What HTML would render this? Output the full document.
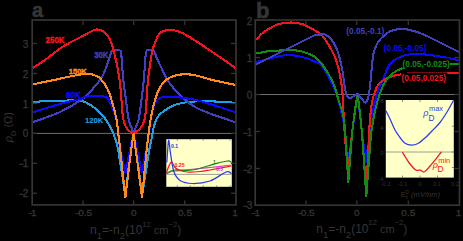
<!DOCTYPE html>
<html><head><meta charset="utf-8"><style>
html,body{margin:0;padding:0;background:#000;}
body{width:463px;height:241px;overflow:hidden;}
svg{display:block;font-family:"Liberation Sans",sans-serif;}
</style></head><body>
<svg width="463" height="241" viewBox="0 0 463 241">
<rect width="463" height="241" fill="#000"/>
<line x1="33" y1="133.4" x2="233" y2="133.4" stroke="#6e6e6e" stroke-width="1"/>
<path d="M32.00 102.50 C34.17 102.25 38.67 101.33 45.00 101.00 C51.33 100.67 64.50 100.67 70.00 100.50 C75.50 100.33 75.17 99.58 78.00 100.00 C80.83 100.42 83.90 101.42 87.00 103.00 C90.10 104.58 93.62 106.95 96.60 109.50 C99.58 112.05 102.48 115.10 104.90 118.30 C107.32 121.50 109.37 125.25 111.10 128.70 C112.83 132.15 114.08 135.20 115.30 139.00 C116.52 142.80 116.70 142.00 118.40 151.50 C120.10 161.00 124.32 188.58 125.50 196.00 M125.50 196.00 C126.17 190.00 128.17 170.50 129.50 160.00 C130.83 149.50 132.83 137.50 133.50 133.00 M133.50 133.00 C134.17 137.50 136.08 149.50 137.50 160.00 C138.92 170.50 141.25 190.00 142.00 196.00 M142.00 196.00 C143.17 188.58 147.42 161.00 149.00 151.50 C150.58 142.00 150.67 143.25 151.50 139.00 C152.33 134.75 153.08 129.50 154.00 126.00 C154.92 122.50 155.67 120.25 157.00 118.00 C158.33 115.75 160.33 114.00 162.00 112.50 C163.67 111.00 164.42 110.42 167.00 109.00 C169.58 107.58 172.42 105.30 177.50 104.00 C182.58 102.70 189.58 101.53 197.50 101.20 C205.42 100.87 218.58 101.70 225.00 102.00 C231.42 102.30 234.17 102.83 236.00 103.00" fill="none" stroke="#1ea0e6" stroke-width="2.1" stroke-linejoin="round" shape-rendering="crispEdges"/>
<path d="M32.00 122.50 C36.67 120.75 51.50 116.00 60.00 112.00 C68.50 108.00 77.50 102.42 83.00 98.50 C88.50 94.58 90.17 91.58 93.00 88.50 C95.83 85.42 98.17 82.58 100.00 80.00 C101.83 77.42 102.67 76.00 104.00 73.00 C105.33 70.00 106.83 65.33 108.00 62.00 C109.17 58.67 110.25 54.87 111.00 53.00 C111.75 51.13 110.92 51.17 112.50 50.80 C114.08 50.43 119.00 49.77 120.50 50.80 C122.00 51.83 121.03 52.13 121.50 57.00 C121.97 61.87 122.55 72.83 123.30 80.00 C124.05 87.17 125.08 93.33 126.00 100.00 C126.92 106.67 127.55 114.58 128.80 120.00 C130.05 125.42 132.72 130.42 133.50 132.50 M133.50 132.50 C134.33 130.42 137.17 125.42 138.50 120.00 C139.83 114.58 140.62 106.67 141.50 100.00 C142.38 93.33 143.13 87.17 143.80 80.00 C144.47 72.83 145.00 61.92 145.50 57.00 C146.00 52.08 145.47 51.58 146.80 50.50 C148.13 49.42 151.97 49.58 153.50 50.50 C155.03 51.42 154.92 53.58 156.00 56.00 C157.08 58.42 158.08 61.00 160.00 65.00 C161.92 69.00 165.00 75.83 167.50 80.00 C170.00 84.17 172.50 87.08 175.00 90.00 C177.50 92.92 179.17 94.67 182.50 97.50 C185.83 100.33 190.42 104.33 195.00 107.00 C199.58 109.67 203.17 110.92 210.00 113.50 C216.83 116.08 231.67 121.00 236.00 122.50" fill="none" stroke="#4040c0" stroke-width="2.1" stroke-linejoin="round" shape-rendering="crispEdges"/>
<path d="M32.00 112.50 C36.67 111.08 52.00 106.25 60.00 104.00 C68.00 101.75 75.50 100.25 80.00 99.00 C84.50 97.75 83.17 96.92 87.00 96.50 C90.83 96.08 99.42 96.00 103.00 96.50 C106.58 97.00 106.67 96.83 108.50 99.50 C110.33 102.17 112.58 108.75 114.00 112.50 C115.42 116.25 116.08 116.58 117.00 122.00 C117.92 127.42 118.08 136.50 119.50 145.00 C120.92 153.50 124.50 168.33 125.50 173.00 M125.50 173.00 C126.17 169.50 128.17 158.67 129.50 152.00 C130.83 145.33 132.83 136.17 133.50 133.00 M133.50 133.00 C134.17 136.17 136.08 145.33 137.50 152.00 C138.92 158.67 141.25 169.50 142.00 173.00 M142.00 173.00 C142.83 168.33 145.58 153.50 147.00 145.00 C148.42 136.50 149.50 128.17 150.50 122.00 C151.50 115.83 152.05 111.42 153.00 108.00 C153.95 104.58 154.62 103.33 156.20 101.50 C157.78 99.67 158.53 97.67 162.50 97.00 C166.47 96.33 173.75 96.83 180.00 97.50 C186.25 98.17 190.67 98.50 200.00 101.00 C209.33 103.50 230.00 110.58 236.00 112.50" fill="none" stroke="#0a0aff" stroke-width="2.1" stroke-linejoin="round" shape-rendering="crispEdges"/>
<path d="M32.00 84.50 C35.67 83.75 47.67 81.33 54.00 80.00 C60.33 78.67 64.50 77.55 70.00 76.50 C75.50 75.45 82.83 73.87 87.00 73.70 C91.17 73.53 92.75 74.67 95.00 75.50 C97.25 76.33 98.33 76.28 100.50 78.70 C102.67 81.12 105.92 85.62 108.00 90.00 C110.08 94.38 111.57 100.00 113.00 105.00 C114.43 110.00 115.68 115.00 116.60 120.00 C117.52 125.00 117.85 129.67 118.50 135.00 C119.15 140.33 119.37 141.50 120.50 152.00 C121.63 162.50 124.50 190.33 125.30 198.00 M125.30 198.00 C126.00 192.17 128.13 173.83 129.50 163.00 C130.87 152.17 132.83 138.00 133.50 133.00 M133.50 133.00 C134.17 138.00 136.08 152.25 137.50 163.00 C138.92 173.75 141.25 191.75 142.00 197.50 M142.00 197.50 C142.75 189.92 145.42 162.42 146.50 152.00 C147.58 141.58 147.83 140.33 148.50 135.00 C149.17 129.67 149.63 125.00 150.50 120.00 C151.37 115.00 152.33 110.00 153.70 105.00 C155.07 100.00 156.65 94.17 158.70 90.00 C160.75 85.83 162.87 82.50 166.00 80.00 C169.13 77.50 173.50 75.92 177.50 75.00 C181.50 74.08 186.58 74.33 190.00 74.50 C193.42 74.67 194.25 75.08 198.00 76.00 C201.75 76.92 206.17 78.50 212.50 80.00 C218.83 81.50 232.08 84.17 236.00 85.00" fill="none" stroke="#ff8a1e" stroke-width="2.1" stroke-linejoin="round" shape-rendering="crispEdges"/>
<path d="M32.00 68.50 C34.17 67.08 40.33 63.33 45.00 60.00 C49.67 56.67 55.83 51.42 60.00 48.50 C64.17 45.58 66.67 44.33 70.00 42.50 C73.33 40.67 76.67 39.25 80.00 37.50 C83.33 35.75 87.33 33.33 90.00 32.00 C92.67 30.67 93.83 29.67 96.00 29.50 C98.17 29.33 101.00 29.92 103.00 31.00 C105.00 32.08 106.67 34.17 108.00 36.00 C109.33 37.83 110.17 39.92 111.00 42.00 C111.83 44.08 112.33 46.17 113.00 48.50 C113.67 50.83 114.33 53.25 115.00 56.00 C115.67 58.75 116.23 61.00 117.00 65.00 C117.77 69.00 118.85 74.17 119.60 80.00 C120.35 85.83 120.93 93.67 121.50 100.00 C122.07 106.33 122.25 113.50 123.00 118.00 C123.75 122.50 124.83 124.75 126.00 127.00 C127.17 129.25 128.75 130.53 130.00 131.50 C131.25 132.47 132.92 132.58 133.50 132.80 M133.50 132.80 C134.25 132.42 136.58 131.63 138.00 130.50 C139.42 129.37 140.83 128.08 142.00 126.00 C143.17 123.92 144.25 122.33 145.00 118.00 C145.75 113.67 146.00 106.33 146.50 100.00 C147.00 93.67 147.33 86.33 148.00 80.00 C148.67 73.67 149.83 66.58 150.50 62.00 C151.17 57.42 151.25 55.75 152.00 52.50 C152.75 49.25 153.67 45.75 155.00 42.50 C156.33 39.25 157.75 35.08 160.00 33.00 C162.25 30.92 165.17 30.17 168.50 30.00 C171.83 29.83 175.58 30.25 180.00 32.00 C184.42 33.75 190.00 37.42 195.00 40.50 C200.00 43.58 205.50 47.50 210.00 50.50 C214.50 53.50 217.67 55.50 222.00 58.50 C226.33 61.50 233.67 66.83 236.00 68.50" fill="none" stroke="#f5141e" stroke-width="2.1" stroke-linejoin="round" shape-rendering="crispEdges"/>
<text transform="translate(45.5,43) scale(0.8,0.97)" fill="#f5141e" stroke="#f5141e" stroke-width="0.4" font-size="10" font-weight="bold">250K</text>
<text transform="translate(94.2,57.9) scale(0.78,0.95)" fill="#4040c0" stroke="#4040c0" stroke-width="0.4" font-size="10" font-weight="bold">30K</text>
<text transform="translate(68.7,73.6) scale(0.76,0.8)" fill="#ff8a1e" stroke="#ff8a1e" stroke-width="0.5" font-size="10" font-weight="bold">150K</text>
<text transform="translate(66.0,98.3) scale(0.78,0.9)" fill="#0a0aff" stroke="#0a0aff" stroke-width="0.45" font-size="10" font-weight="bold">60K</text>
<text transform="translate(85,122.7) scale(0.85,0.85)" fill="#1ea0e6" stroke="#1ea0e6" stroke-width="0.1" font-size="9" font-weight="bold">120K</text>
<rect x="166.3" y="139.2" width="65.5" height="47.6" fill="#ffffc8"/>
<line x1="166.3" y1="174.4" x2="231.8" y2="174.4" stroke="#888" stroke-width="0.8"/>
<path d="M166.50 173.00 C167.92 172.67 171.08 171.58 175.00 171.00 C178.92 170.42 184.17 170.08 190.00 169.50 C195.83 168.92 203.08 168.25 210.00 167.50 C216.92 166.75 227.92 165.42 231.50 165.00" fill="none" stroke="#d23cd2" stroke-width="1.25"/>
<path d="M166.50 173.70 C167.08 173.33 168.58 172.12 170.00 171.50 C171.42 170.88 171.25 170.25 175.00 170.00 C178.75 169.75 185.83 171.03 192.50 170.00 C199.17 168.97 209.17 165.30 215.00 163.80 C220.83 162.30 224.75 161.22 227.50 161.00 C230.25 160.78 230.83 162.25 231.50 162.50" fill="none" stroke="#148c14" stroke-width="1.25"/>
<path d="M166.50 172.50 C166.83 171.58 167.83 168.58 168.50 167.00 C169.17 165.42 169.92 163.78 170.50 163.00 C171.08 162.22 171.25 161.55 172.00 162.30 C172.75 163.05 173.67 166.13 175.00 167.50 C176.33 168.87 177.92 169.75 180.00 170.50 C182.08 171.25 184.17 171.83 187.50 172.00 C190.83 172.17 196.25 171.83 200.00 171.50 C203.75 171.17 204.75 170.92 210.00 170.00 C215.25 169.08 227.92 166.67 231.50 166.00" fill="none" stroke="#f5141e" stroke-width="1.25"/>
<path d="M166.80 162.50 C167.10 158.83 168.02 142.25 168.60 140.50 C169.18 138.75 169.45 146.92 170.30 152.00 C171.15 157.08 172.08 166.25 173.70 171.00 C175.32 175.75 176.87 178.42 180.00 180.50 C183.13 182.58 187.50 183.42 192.50 183.50 C197.50 183.58 204.42 182.92 210.00 181.00 C215.58 179.08 222.42 173.25 226.00 172.00 C229.58 170.75 230.58 173.25 231.50 173.50" fill="none" stroke="#2a3cf0" stroke-width="1.25"/>
<text x="171" y="148.3" fill="#2a3cf0" font-size="5.2" font-weight="bold" text-anchor="start" >0.1</text>
<text x="174.5" y="166.5" fill="#f5141e" font-size="5.2" font-weight="bold" text-anchor="start" >0.25</text>
<text x="213" y="164" fill="#148c14" font-size="5.2" font-weight="bold" text-anchor="start" >1</text>
<text x="216" y="171.3" fill="#d23cd2" font-size="5.2" font-weight="bold" text-anchor="start" >0.5</text>
<line x1="177.3" y1="186.8" x2="177.3" y2="185.3" stroke="#444" stroke-width="0.6"/>
<line x1="177.3" y1="139.2" x2="177.3" y2="140.7" stroke="#444" stroke-width="0.6"/>
<line x1="190.2" y1="186.8" x2="190.2" y2="185.3" stroke="#444" stroke-width="0.6"/>
<line x1="190.2" y1="139.2" x2="190.2" y2="140.7" stroke="#444" stroke-width="0.6"/>
<line x1="203.2" y1="186.8" x2="203.2" y2="185.3" stroke="#444" stroke-width="0.6"/>
<line x1="203.2" y1="139.2" x2="203.2" y2="140.7" stroke="#444" stroke-width="0.6"/>
<line x1="216.6" y1="186.8" x2="216.6" y2="185.3" stroke="#444" stroke-width="0.6"/>
<line x1="216.6" y1="139.2" x2="216.6" y2="140.7" stroke="#444" stroke-width="0.6"/>
<line x1="230" y1="186.8" x2="230" y2="185.3" stroke="#444" stroke-width="0.6"/>
<line x1="230" y1="139.2" x2="230" y2="140.7" stroke="#444" stroke-width="0.6"/>
<rect x="32.2" y="20.0" width="203.8" height="184.9" fill="none" stroke="#353535" stroke-width="1.7"/>
<line x1="33" y1="43.5" x2="37" y2="43.5" stroke="#353535" stroke-width="1.3"/>
<line x1="231" y1="43.5" x2="235.2" y2="43.5" stroke="#353535" stroke-width="1.3"/>
<line x1="33" y1="73.45" x2="37" y2="73.45" stroke="#353535" stroke-width="1.3"/>
<line x1="231" y1="73.45" x2="235.2" y2="73.45" stroke="#353535" stroke-width="1.3"/>
<line x1="33" y1="103.4" x2="37" y2="103.4" stroke="#353535" stroke-width="1.3"/>
<line x1="231" y1="103.4" x2="235.2" y2="103.4" stroke="#353535" stroke-width="1.3"/>
<line x1="33" y1="133.35" x2="37" y2="133.35" stroke="#353535" stroke-width="1.3"/>
<line x1="231" y1="133.35" x2="235.2" y2="133.35" stroke="#353535" stroke-width="1.3"/>
<line x1="33" y1="163.3" x2="37" y2="163.3" stroke="#353535" stroke-width="1.3"/>
<line x1="231" y1="163.3" x2="235.2" y2="163.3" stroke="#353535" stroke-width="1.3"/>
<line x1="33" y1="193.25" x2="37" y2="193.25" stroke="#353535" stroke-width="1.3"/>
<line x1="231" y1="193.25" x2="235.2" y2="193.25" stroke="#353535" stroke-width="1.3"/>
<line x1="83" y1="21" x2="83" y2="25" stroke="#353535" stroke-width="1.3"/>
<line x1="83" y1="200.5" x2="83" y2="204" stroke="#353535" stroke-width="1.3"/>
<line x1="133.7" y1="21" x2="133.7" y2="25" stroke="#353535" stroke-width="1.3"/>
<line x1="133.7" y1="200.5" x2="133.7" y2="204" stroke="#353535" stroke-width="1.3"/>
<line x1="184.8" y1="21" x2="184.8" y2="25" stroke="#353535" stroke-width="1.3"/>
<line x1="184.8" y1="200.5" x2="184.8" y2="204" stroke="#353535" stroke-width="1.3"/>
<text transform="translate(28.2,47.6) scale(1,1.0)" fill="#353535" stroke="#353535" stroke-width="0.3" font-size="10" text-anchor="end">3</text>
<text transform="translate(28.2,77.55) scale(1,1.0)" fill="#353535" stroke="#353535" stroke-width="0.3" font-size="10" text-anchor="end">2</text>
<text transform="translate(28.2,107.5) scale(1,1.0)" fill="#353535" stroke="#353535" stroke-width="0.3" font-size="10" text-anchor="end">1</text>
<text transform="translate(28.2,137.45) scale(1,1.0)" fill="#353535" stroke="#353535" stroke-width="0.3" font-size="10" text-anchor="end">0</text>
<text transform="translate(28.2,167.4) scale(1,1.0)" fill="#353535" stroke="#353535" stroke-width="0.3" font-size="10" text-anchor="end"><tspan font-size="8.2" letter-spacing="-1.3">&#8722;</tspan>1</text>
<text transform="translate(28.2,197.35) scale(1,1.0)" fill="#353535" stroke="#353535" stroke-width="0.3" font-size="10" text-anchor="end"><tspan font-size="8.2" letter-spacing="-1.3">&#8722;</tspan>2</text>
<text transform="translate(32,215.6) scale(1,0.85)" fill="#353535" stroke="#353535" stroke-width="0.3" font-size="10" text-anchor="middle"><tspan font-size="8.2" letter-spacing="-1.3">&#8722;</tspan>1</text>
<text transform="translate(83.5,215.6) scale(1,0.85)" fill="#353535" stroke="#353535" stroke-width="0.3" font-size="10" text-anchor="middle"><tspan font-size="8.2" letter-spacing="-1.3">&#8722;</tspan>0.5</text>
<text transform="translate(133.7,215.6) scale(1,0.85)" fill="#353535" stroke="#353535" stroke-width="0.3" font-size="10" text-anchor="middle">0</text>
<text transform="translate(185,215.6) scale(1,0.85)" fill="#353535" stroke="#353535" stroke-width="0.3" font-size="10" text-anchor="middle">0.5</text>
<text transform="translate(235,215.6) scale(1,0.85)" fill="#353535" stroke="#353535" stroke-width="0.3" font-size="10" text-anchor="middle">1</text>
<text x="32.0" y="17.3" fill="#353535" font-size="20" font-weight="bold" text-anchor="start" stroke="#353535" stroke-width="0.5">a</text>
<line x1="259.5" y1="94.5" x2="456" y2="94.5" stroke="#6e6e6e" stroke-width="1"/>
<path d="M256.00 62.00 C259.00 61.25 268.88 58.67 274.00 57.50 C279.12 56.33 282.92 55.28 286.70 55.00 C290.48 54.72 293.37 55.25 296.70 55.80 C300.03 56.35 303.65 57.32 306.70 58.30 C309.75 59.28 312.78 60.72 315.00 61.70 C317.22 62.68 318.33 62.68 320.00 64.20 C321.67 65.72 323.05 67.75 325.00 70.80 C326.95 73.85 329.90 78.88 331.70 82.50 C333.50 86.12 334.50 88.75 335.80 92.50 C337.10 96.25 338.33 100.75 339.50 105.00 C340.67 109.25 341.92 113.83 342.80 118.00 C343.68 122.17 343.88 122.72 344.80 130.00 C345.72 137.28 347.72 156.42 348.30 161.70 M348.30 161.70 C349.00 156.42 350.97 141.37 352.50 130.00 C354.03 118.63 356.67 99.58 357.50 93.50 M357.50 93.50 C358.20 99.58 360.32 118.50 361.70 130.00 C363.08 141.50 365.12 157.08 365.80 162.50 M365.80 162.50 C366.42 157.92 368.58 141.75 369.50 135.00 C370.42 128.25 370.72 126.00 371.30 122.00 C371.88 118.00 372.07 115.50 373.00 111.00 C373.93 106.50 375.82 99.00 376.90 95.00 C377.98 91.00 378.32 90.00 379.50 87.00 C380.68 84.00 382.25 80.83 384.00 77.00 C385.75 73.17 387.33 67.33 390.00 64.00 C392.67 60.67 396.67 58.62 400.00 57.00 C403.33 55.38 406.67 54.80 410.00 54.30 C413.33 53.80 415.00 53.63 420.00 54.00 C425.00 54.37 433.33 55.42 440.00 56.50 C446.67 57.58 456.67 59.83 460.00 60.50" fill="none" stroke="#0a0aff" stroke-width="2.1" stroke-linejoin="round" shape-rendering="crispEdges"/>
<path d="M256.00 40.00 C257.00 38.92 259.83 35.38 262.00 33.50 C264.17 31.62 266.17 30.28 269.00 28.70 C271.83 27.12 275.25 25.03 279.00 24.00 C282.75 22.97 287.60 22.48 291.50 22.50 C295.40 22.52 298.85 22.97 302.40 24.10 C305.95 25.23 309.68 27.57 312.80 29.30 C315.92 31.03 318.68 32.25 321.10 34.50 C323.52 36.75 325.10 39.30 327.30 42.80 C329.50 46.30 332.43 51.22 334.30 55.50 C336.17 59.78 337.42 64.42 338.50 68.50 C339.58 72.58 340.15 76.08 340.80 80.00 C341.45 83.92 342.03 88.67 342.40 92.00 C342.77 95.33 342.80 96.17 343.00 100.00 C343.20 103.83 343.23 108.33 343.60 115.00 C343.97 121.67 344.47 130.33 345.20 140.00 C345.93 149.67 347.53 167.50 348.00 173.00 M348.00 173.00 C348.75 165.83 350.92 143.25 352.50 130.00 C354.08 116.75 356.67 99.58 357.50 93.50 M357.50 93.50 C358.20 99.58 360.23 113.50 361.70 130.00 C363.17 146.50 365.53 182.08 366.30 192.50 M366.30 192.50 C366.72 183.75 368.13 152.92 368.80 140.00 C369.47 127.08 369.68 121.67 370.30 115.00 C370.92 108.33 371.55 104.33 372.50 100.00 C373.45 95.67 374.75 91.92 376.00 89.00 C377.25 86.08 377.67 84.50 380.00 82.50 C382.33 80.50 386.67 78.33 390.00 77.00 C393.33 75.67 395.83 75.13 400.00 74.50 C404.17 73.87 405.00 73.45 415.00 73.20 C425.00 72.95 452.50 73.03 460.00 73.00" fill="none" stroke="#f5141e" stroke-width="2.1" stroke-linejoin="round" shape-rendering="crispEdges"/>
<path d="M256.00 53.50 C258.17 53.12 265.00 51.70 269.00 51.20 C273.00 50.70 275.38 50.62 280.00 50.50 C284.62 50.38 292.53 50.17 296.70 50.50 C300.87 50.83 302.23 51.62 305.00 52.50 C307.77 53.38 310.80 54.27 313.30 55.80 C315.80 57.33 318.05 59.62 320.00 61.70 C321.95 63.78 323.05 65.25 325.00 68.30 C326.95 71.35 329.90 76.38 331.70 80.00 C333.50 83.62 334.67 86.67 335.80 90.00 C336.93 93.33 337.38 96.25 338.50 100.00 C339.62 103.75 341.42 107.50 342.50 112.50 C343.58 117.50 344.03 118.33 345.00 130.00 C345.97 141.67 347.75 173.75 348.30 182.50 M348.30 182.50 C349.00 173.75 350.97 144.83 352.50 130.00 C354.03 115.17 356.67 99.58 357.50 93.50 M357.50 93.50 C358.20 99.58 360.23 112.80 361.70 130.00 C363.17 147.20 365.53 185.58 366.30 196.70 M366.30 196.70 C367.00 187.25 369.47 151.95 370.50 140.00 C371.53 128.05 371.75 129.83 372.50 125.00 C373.25 120.17 373.85 116.00 375.00 111.00 C376.15 106.00 377.73 99.83 379.40 95.00 C381.07 90.17 382.90 85.53 385.00 82.00 C387.10 78.47 389.00 76.15 392.00 73.80 C395.00 71.45 398.33 69.45 403.00 67.90 C407.67 66.35 410.50 65.18 420.00 64.50 C429.50 63.82 453.33 63.92 460.00 63.80" fill="none" stroke="#148c14" stroke-width="2.1" stroke-linejoin="round" shape-rendering="crispEdges"/>
<path d="M256.00 64.50 C260.00 62.50 274.33 55.33 280.00 52.50 C285.67 49.67 286.67 49.17 290.00 47.50 C293.33 45.83 296.67 44.17 300.00 42.50 C303.33 40.83 307.50 38.72 310.00 37.50 C312.50 36.28 313.33 35.70 315.00 35.20 C316.67 34.70 318.28 34.60 320.00 34.50 C321.72 34.40 323.38 33.73 325.30 34.60 C327.22 35.47 329.60 37.30 331.50 39.70 C333.40 42.10 335.32 45.88 336.70 49.00 C338.08 52.12 338.83 54.73 339.80 58.40 C340.77 62.07 341.72 66.57 342.50 71.00 C343.28 75.43 343.83 81.00 344.50 85.00 C345.17 89.00 345.67 92.83 346.50 95.00 C347.33 97.17 348.42 97.75 349.50 98.00 C350.58 98.25 351.67 97.23 353.00 96.50 C354.33 95.77 356.75 94.08 357.50 93.60 M357.50 93.60 C358.17 94.42 360.17 97.02 361.50 98.50 C362.83 99.98 364.33 102.92 365.50 102.50 C366.67 102.08 367.67 99.42 368.50 96.00 C369.33 92.58 369.92 87.17 370.50 82.00 C371.08 76.83 371.47 69.92 372.00 65.00 C372.53 60.08 372.95 55.83 373.70 52.50 C374.45 49.17 375.45 47.17 376.50 45.00 C377.55 42.83 377.75 41.78 380.00 39.50 C382.25 37.22 386.67 33.05 390.00 31.30 C393.33 29.55 396.67 29.22 400.00 29.00 C403.33 28.78 406.07 29.08 410.00 30.00 C413.93 30.92 417.45 31.83 423.60 34.50 C429.75 37.17 440.83 43.00 446.90 46.00 C452.97 49.00 457.82 51.42 460.00 52.50" fill="none" stroke="#4040c0" stroke-width="2.1" stroke-linejoin="round" shape-rendering="crispEdges"/>
<text transform="translate(346.3,33.7) scale(0.97,1.08)" fill="#4040c0" font-size="8.5" font-weight="bold">(0.05,-0.1)</text>
<rect x="383.5" y="42.4" width="45" height="9.5" fill="#000"/>
<text transform="translate(383.8,50.6) scale(0.97,1.08)" fill="#0a0aff" font-size="8.5" font-weight="bold">(0.05,-0.05)</text>
<rect x="402.3" y="58.5" width="47.5" height="9.5" fill="#000"/>
<text transform="translate(402.6,66.7) scale(0.97,1.08)" fill="#148c14" font-size="8.5" font-weight="bold">(0.05,-0.025)</text>
<rect x="401.3" y="72.5" width="46" height="10" fill="#000"/>
<text transform="translate(401.6,81.2) scale(0.97,1.08)" fill="#f5141e" font-size="8.5" font-weight="bold">(0.05,0.025)</text>
<rect x="385.8" y="100" width="68" height="77.6" fill="#ffffc8"/>
<line x1="385.8" y1="152" x2="453.8" y2="152" stroke="#888" stroke-width="0.8"/>
<path d="M386.00 110.80 C386.67 112.17 388.50 115.80 390.00 119.00 C391.50 122.20 393.33 126.92 395.00 130.00 C396.67 133.08 398.33 135.28 400.00 137.50 C401.67 139.72 403.07 142.02 405.00 143.30 C406.93 144.58 409.43 145.17 411.60 145.20 C413.77 145.23 415.77 144.70 418.00 143.50 C420.23 142.30 422.67 140.08 425.00 138.00 C427.33 135.92 429.50 133.58 432.00 131.00 C434.50 128.42 437.50 125.67 440.00 122.50 C442.50 119.33 444.72 115.75 447.00 112.00 C449.28 108.25 452.58 102.00 453.70 100.00" fill="none" stroke="#2a3cf0" stroke-width="1.25"/>
<path d="M402.30 152.00 C402.92 153.00 404.72 156.00 406.00 158.00 C407.28 160.00 408.50 162.08 410.00 164.00 C411.50 165.92 413.67 168.45 415.00 169.50 C416.33 170.55 417.08 170.18 418.00 170.30 C418.92 170.42 419.55 169.92 420.50 170.20 C421.45 170.48 422.62 172.12 423.70 172.00 C424.78 171.88 425.95 170.50 427.00 169.50 C428.05 168.50 428.47 167.80 430.00 166.00 C431.53 164.20 434.32 161.03 436.20 158.70 C438.08 156.37 440.45 153.12 441.30 152.00" fill="none" stroke="#f5141e" stroke-width="1.25"/>
<line x1="402.5" y1="177.6" x2="402.5" y2="175.6" stroke="#444" stroke-width="0.6"/>
<line x1="402.5" y1="100" x2="402.5" y2="102" stroke="#444" stroke-width="0.6"/>
<line x1="420" y1="177.6" x2="420" y2="175.6" stroke="#444" stroke-width="0.6"/>
<line x1="420" y1="100" x2="420" y2="102" stroke="#444" stroke-width="0.6"/>
<line x1="437.5" y1="177.6" x2="437.5" y2="175.6" stroke="#444" stroke-width="0.6"/>
<line x1="437.5" y1="100" x2="437.5" y2="102" stroke="#444" stroke-width="0.6"/>
<line x1="453.8" y1="126.2" x2="451.8" y2="126.2" stroke="#444" stroke-width="0.6"/>
<line x1="453.8" y1="152" x2="451.8" y2="152" stroke="#444" stroke-width="0.6"/>
<line x1="453.8" y1="167.5" x2="451.8" y2="167.5" stroke="#444" stroke-width="0.6"/>
<text x="423.2" y="116.2" fill="#2a3cf0" font-size="9" font-weight="normal" text-anchor="start" font-style="italic">&#961;</text>
<text x="428.5" y="120.6" fill="#2a3cf0" font-size="8.3" font-weight="normal" text-anchor="start" >D</text>
<text x="429.0" y="111.3" fill="#2a3cf0" font-size="7.4" font-weight="normal" text-anchor="start" >max</text>
<text x="432.8" y="167.8" fill="#f5141e" font-size="9" font-weight="normal" text-anchor="start" font-style="italic">&#961;</text>
<text x="437.5" y="172.2" fill="#f5141e" font-size="8.3" font-weight="normal" text-anchor="start" >D</text>
<text x="438.3" y="163.3" fill="#f5141e" font-size="7.4" font-weight="normal" text-anchor="start" >min</text>
<text x="383.5" y="103" fill="#353535" font-size="6" font-weight="normal" text-anchor="end" >8</text>
<text x="383.5" y="129.5" fill="#353535" font-size="6" font-weight="normal" text-anchor="end" >4</text>
<text x="383.5" y="154.5" fill="#353535" font-size="6" font-weight="normal" text-anchor="end" >0</text>
<text x="383.5" y="180.5" fill="#353535" font-size="6" font-weight="normal" text-anchor="end" >-4</text>
<text x="385.5" y="186.3" fill="#353535" font-size="5.5" font-weight="normal" text-anchor="middle" >-0.2</text>
<text x="402.5" y="186.3" fill="#353535" font-size="5.5" font-weight="normal" text-anchor="middle" >-0.1</text>
<text x="420" y="186.3" fill="#353535" font-size="5.5" font-weight="normal" text-anchor="middle" >0</text>
<text x="437" y="186.3" fill="#353535" font-size="5.5" font-weight="normal" text-anchor="middle" >0.1</text>
<text x="455" y="186.3" fill="#353535" font-size="5.5" font-weight="normal" text-anchor="middle" >0.2</text>
<text x="400.8" y="196.5" fill="#353535" font-size="7">E<tspan font-size="5" dy="-3">D</tspan><tspan font-size="5" dx="-3.6" dy="5.5">z</tspan><tspan dy="-2.5" dx="1" font-style="italic" font-size="7.6"> (mV/nm)</tspan></text>
<rect x="255.2" y="20.0" width="204.3" height="185.2" fill="none" stroke="#353535" stroke-width="1.7"/>
<line x1="256" y1="57.5" x2="260" y2="57.5" stroke="#353535" stroke-width="1.3"/>
<line x1="454.5" y1="57.5" x2="458.6" y2="57.5" stroke="#353535" stroke-width="1.3"/>
<line x1="256" y1="94.5" x2="260" y2="94.5" stroke="#353535" stroke-width="1.3"/>
<line x1="454.5" y1="94.5" x2="458.6" y2="94.5" stroke="#353535" stroke-width="1.3"/>
<line x1="256" y1="131.5" x2="260" y2="131.5" stroke="#353535" stroke-width="1.3"/>
<line x1="454.5" y1="131.5" x2="458.6" y2="131.5" stroke="#353535" stroke-width="1.3"/>
<line x1="256" y1="168.5" x2="260" y2="168.5" stroke="#353535" stroke-width="1.3"/>
<line x1="454.5" y1="168.5" x2="458.6" y2="168.5" stroke="#353535" stroke-width="1.3"/>
<line x1="306" y1="21" x2="306" y2="25" stroke="#353535" stroke-width="1.3"/>
<line x1="306" y1="200.5" x2="306" y2="204.3" stroke="#353535" stroke-width="1.3"/>
<line x1="356.8" y1="21" x2="356.8" y2="25" stroke="#353535" stroke-width="1.3"/>
<line x1="356.8" y1="200.5" x2="356.8" y2="204.3" stroke="#353535" stroke-width="1.3"/>
<line x1="408.3" y1="21" x2="408.3" y2="25" stroke="#353535" stroke-width="1.3"/>
<line x1="408.3" y1="200.5" x2="408.3" y2="204.3" stroke="#353535" stroke-width="1.3"/>
<text transform="translate(252.2,24.6) scale(1,1.0)" fill="#353535" stroke="#353535" stroke-width="0.3" font-size="10" text-anchor="end">2</text>
<text transform="translate(252.2,61.6) scale(1,1.0)" fill="#353535" stroke="#353535" stroke-width="0.3" font-size="10" text-anchor="end">1</text>
<text transform="translate(252.2,98.6) scale(1,1.0)" fill="#353535" stroke="#353535" stroke-width="0.3" font-size="10" text-anchor="end">0</text>
<text transform="translate(252.2,135.6) scale(1,1.0)" fill="#353535" stroke="#353535" stroke-width="0.3" font-size="10" text-anchor="end"><tspan font-size="8.2" letter-spacing="-1.3">&#8722;</tspan>1</text>
<text transform="translate(252.2,172.6) scale(1,1.0)" fill="#353535" stroke="#353535" stroke-width="0.3" font-size="10" text-anchor="end"><tspan font-size="8.2" letter-spacing="-1.3">&#8722;</tspan>2</text>
<text transform="translate(252.2,209.1) scale(1,1.0)" fill="#353535" stroke="#353535" stroke-width="0.3" font-size="10" text-anchor="end"><tspan font-size="8.2" letter-spacing="-1.3">&#8722;</tspan>3</text>
<text transform="translate(255.5,215.6) scale(1,0.85)" fill="#353535" stroke="#353535" stroke-width="0.3" font-size="10" text-anchor="middle"><tspan font-size="8.2" letter-spacing="-1.3">&#8722;</tspan>1</text>
<text transform="translate(306,215.6) scale(1,0.85)" fill="#353535" stroke="#353535" stroke-width="0.3" font-size="10" text-anchor="middle"><tspan font-size="8.2" letter-spacing="-1.3">&#8722;</tspan>0.5</text>
<text transform="translate(356.8,215.6) scale(1,0.85)" fill="#353535" stroke="#353535" stroke-width="0.3" font-size="10" text-anchor="middle">0</text>
<text transform="translate(408.3,215.6) scale(1,0.85)" fill="#353535" stroke="#353535" stroke-width="0.3" font-size="10" text-anchor="middle">0.5</text>
<text transform="translate(458.5,215.6) scale(1,0.85)" fill="#353535" stroke="#353535" stroke-width="0.3" font-size="10" text-anchor="middle">1</text>
<text x="256.0" y="17.5" fill="#353535" font-size="22" font-weight="bold" text-anchor="start" stroke="#353535" stroke-width="0.5">b</text>
<text x="90.0" y="234" fill="#353535" font-size="12">n<tspan font-size="9.5" dy="4.8">1</tspan><tspan dy="-4.8">=-n</tspan><tspan font-size="9.5" dy="4.8">2</tspan><tspan dy="-4.8">(10</tspan><tspan font-size="7.6" dy="-7.5">12</tspan><tspan dy="7.5" font-size="11"> cm</tspan><tspan font-size="7.6" dy="-7.5">&#8722;2</tspan><tspan dy="7.5">)</tspan></text>
<text x="316.2" y="232.9" fill="#353535" font-size="12">n<tspan font-size="9.5" dy="4.8">1</tspan><tspan dy="-4.8">=-n</tspan><tspan font-size="9.5" dy="4.8">2</tspan><tspan dy="-4.8">(10</tspan><tspan font-size="7.6" dy="-7.5">12</tspan><tspan dy="7.5" font-size="11"> cm</tspan><tspan font-size="7.6" dy="-7.5">&#8722;2</tspan><tspan dy="7.5">)</tspan></text>
<text transform="translate(11.7,127.2) rotate(-90)" fill="#353535" font-size="11" text-anchor="middle"><tspan font-style="italic">&#961;</tspan><tspan font-size="7.5" dy="4.5">D</tspan><tspan dy="-4.5"> (&#937;)</tspan></text>
</svg>
</body></html>
